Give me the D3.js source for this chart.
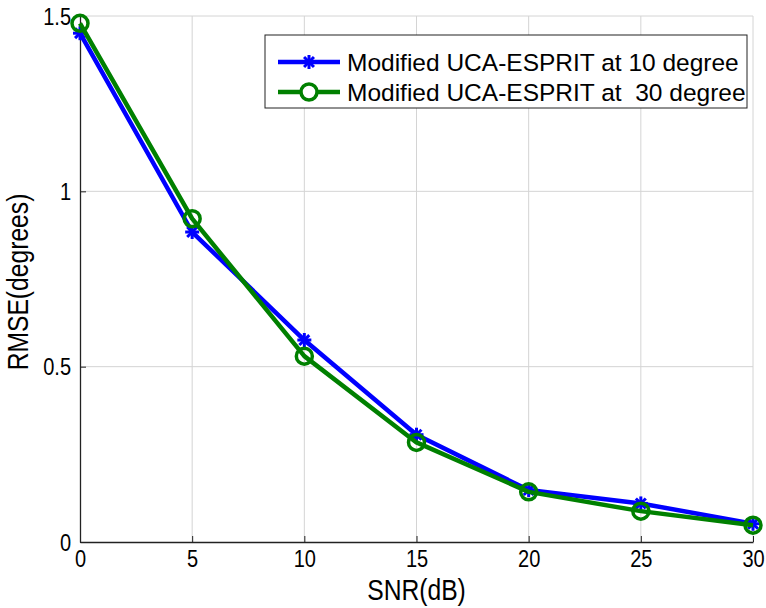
<!DOCTYPE html>
<html>
<head>
<meta charset="utf-8">
<script src="https://cdn.jsdelivr.net/npm/d3@7"></script>
<style>
  body { margin: 0; background: #fff; }
  text { font-family: "Liberation Sans", Arial, sans-serif; }
</style>
</head>
<body>
<svg width="766" height="608"></svg>
<script>
var snr = [0, 5, 10, 15, 20, 25, 30];
var rmse10 = [1.451, 0.884, 0.576, 0.306, 0.148, 0.110, 0.052];
var rmse30 = [1.479, 0.922, 0.530, 0.284, 0.143, 0.088, 0.048];
var xTicks = [0, 5, 10, 15, 20, 25, 30];
var yTicks = [0, 0.5, 1, 1.5];
var names = ["Modified UCA-ESPRIT at 10 degree", "Modified UCA-ESPRIT at  30 degree"];

var svg = d3.select("svg"),
	margin = {top: 16, right: 13, bottom: 66, left: 80},
	width = +svg.attr("width") - margin.left - margin.right,
	height = +svg.attr("height") - margin.top - margin.bottom,
	g = svg.append("g").attr("transform", "translate(" + margin.left + "," + margin.top + ")");

var x = d3.scaleLinear().domain([0, 30]).range([0, width]);
var y = d3.scaleLinear().domain([0, 1.5]).range([height, 0]);

// grid
g.append("g").selectAll("line").data(xTicks.slice(1)).enter().append("line")
	.attr("x1", d => x(d)).attr("x2", d => x(d))
	.attr("y1", 0).attr("y2", height)
	.attr("stroke", "#d4d4d4").attr("stroke-width", 1);
g.append("g").selectAll("line").data(yTicks.slice(1)).enter().append("line")
	.attr("x1", 0).attr("x2", width)
	.attr("y1", d => y(d)).attr("y2", d => y(d))
	.attr("stroke", "#d4d4d4").attr("stroke-width", 1);

// axes
var xAxis = g.append("g")
	.attr("transform", "translate(0," + height + ")")
	.call(d3.axisBottom(x).tickValues(xTicks).tickSizeInner(-6).tickSizeOuter(0).tickPadding(11));
var yAxis = g.append("g")
	.call(d3.axisLeft(y).tickValues(yTicks).tickFormat(d3.format("")).tickSizeInner(-6).tickSizeOuter(0).tickPadding(9));
[xAxis, yAxis].forEach(function(a) {
	a.attr("font-family", null).attr("font-size", null);
	a.select(".domain").attr("stroke", "#222").attr("stroke-width", 1.3);
	a.selectAll(".tick line").attr("stroke", "#222");
	a.selectAll("text").attr("font-size", 23).attr("fill", "#000")
		.attr("transform", "scale(0.87,1)");
});
xAxis.selectAll("text").attr("dy", "0.62em");
yAxis.selectAll("text").attr("dy", "0.36em").attr("x", -9 / 0.87);

// axis titles, squeezed a bit like the original
g.append("g").attr("transform", "translate(" + (width / 2) + "," + (height + 58) + ") scale(0.85,1)")
	.append("text").attr("text-anchor", "middle").attr("font-size", 29)
	.text("SNR(dB)");
g.append("g").attr("transform", "translate(-52," + (height / 2 + 3) + ") rotate(-90) scale(0.85,1)")
	.append("text").attr("text-anchor", "middle").attr("font-size", 29)
	.text("RMSE(degrees)");

var line = d3.line()
	.x(function(d, i) { return x(snr[i]); })
	.y(function(d) { return y(d); });

function star(sel, cx, cy, r) {
	[0, 45, 90, 135].forEach(function(a) {
		var rad = a * Math.PI / 180;
		sel.append("line")
			.attr("x1", cx - r * Math.cos(rad)).attr("y1", cy - r * Math.sin(rad))
			.attr("x2", cx + r * Math.cos(rad)).attr("y2", cy + r * Math.sin(rad))
			.attr("stroke", "#0000ff").attr("stroke-width", 3);
	});
}

g.append("path").datum(rmse10)
	.attr("fill", "none").attr("stroke", "#0000ff").attr("stroke-width", 4.5)
	.attr("stroke-linejoin", "round").attr("d", line);
var stars = g.append("g");
rmse10.forEach(function(d, i) { star(stars, x(snr[i]), y(d), 7); });

g.append("path").datum(rmse30)
	.attr("fill", "none").attr("stroke", "#008000").attr("stroke-width", 4.5)
	.attr("stroke-linejoin", "round").attr("d", line);
g.append("g").selectAll("circle").data(rmse30).enter().append("circle")
	.attr("cx", (d, i) => x(snr[i])).attr("cy", d => y(d)).attr("r", 8)
	.attr("fill", "none").attr("stroke", "#008000").attr("stroke-width", 3.5);

// legend
var lg = svg.append("g").attr("transform", "translate(265,35)");
lg.append("rect").attr("width", 482).attr("height", 73)
	.attr("fill", "#fff").attr("stroke", "#222").attr("stroke-width", 1);
var cols = ["#0000ff", "#008000"];
names.forEach(function(n, i) {
	var yy = 27 + i * 30;
	lg.append("line").attr("x1", 13).attr("x2", 75).attr("y1", yy).attr("y2", yy)
		.attr("stroke", cols[i]).attr("stroke-width", 4.5);
	if (i == 0) star(lg, 44, yy, 7);
	else lg.append("circle").attr("cx", 44).attr("cy", yy).attr("r", 8)
		.attr("fill", "#fff").attr("stroke", cols[i]).attr("stroke-width", 3.5);
	lg.append("text").attr("x", 82).attr("y", yy).attr("dy", "0.36em")
		.attr("font-size", 24.5).style("white-space", "pre")
		.text(n);
});
</script>
</body>
</html>
